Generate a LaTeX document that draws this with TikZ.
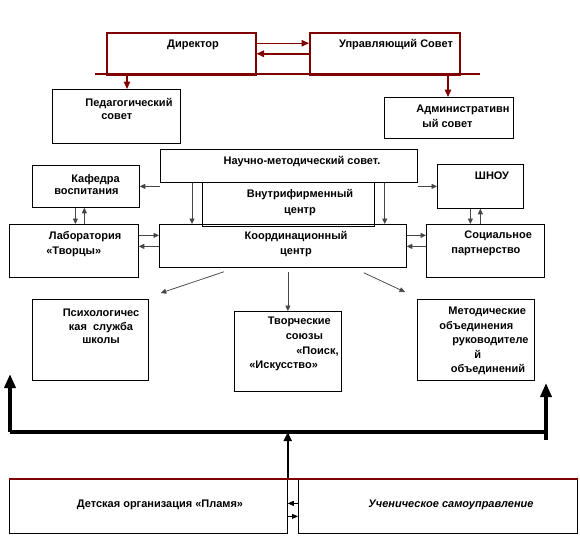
\documentclass[tikz,border=0pt]{standalone}
\usepackage{fontspec}
\setmainfont{Liberation Sans}
\usetikzlibrary{arrows.meta,calc}

\definecolor{bordo}{RGB}{128,0,0}
\definecolor{linegray}{RGB}{70,70,70}

\tikzset{every picture/.style={line width=0.75pt}}
\tikzset{
  box/.style={draw, inner sep=0pt, anchor=north west},
  redbox/.style={box, draw=bordo, line width=1.5pt},
  txt/.style={inner sep=0pt, anchor=west, align=left,
    font=\fontsize{11}{#1}\selectfont\bfseries},
  txt/.default=14.5,
  link/.style={draw=linegray, -{Triangle[length=5.5pt,width=5pt]}},
  redlink/.style={draw=bordo, color=bordo, line width=1.5pt, -{Triangle[length=7.5pt,width=6.5pt]}},
  bus/.style={line width=3.5pt},
  busarrow/.style={line width=3.5pt, -{Triangle[length=14pt,width=11pt]}},
  midarrow/.style={line width=2pt, -{Triangle[length=9pt,width=8pt]}},
  tiny/.style={-{Triangle[length=6pt,width=5pt]}}
}

\begin{document}
\begin{tikzpicture}[x=1pt,y=1pt,yscale=-1,xscale=1]
\useasboundingbox (0,0) rectangle (580,552);

%Shape: Rectangle
\node[redbox, minimum width=149pt, minimum height=42pt] (dir) at (106,32) {};
\node[redbox, minimum width=150pt, minimum height=42pt] (upr) at (309,32) {};
\node[box, minimum width=128pt, minimum height=54pt] (ped) at (52,89) {};
\node[box, minimum width=129pt, minimum height=41pt] (adm) at (384,97) {};
\node[box, minimum width=257pt, minimum height=33pt] (nms) at (160,149) {};
\node[box, minimum width=107pt, minimum height=42pt] (kaf) at (32,165) {};
\node[box, minimum width=86pt, minimum height=44pt] (shnou) at (437,164) {};
\node[box, minimum width=172pt, minimum height=44pt] (vnt) at (202,182) {};
\node[box, minimum width=129pt, minimum height=53pt] (lab) at (9,224) {};
\node[box, minimum width=247pt, minimum height=43pt] (koord) at (159,224) {};
\node[box, minimum width=118pt, minimum height=53pt] (soc) at (426,224) {};
\node[box, minimum width=116pt, minimum height=81pt] (psy) at (32,299) {};
\node[box, minimum width=107pt, minimum height=80pt] (tvo) at (234,311) {};
\node[box, minimum width=117pt, minimum height=81pt] (met) at (417,299) {};
\node[box, minimum width=278pt, minimum height=54pt] (det) at (9,479) {};
\node[box, minimum width=279pt, minimum height=54pt] (uch) at (298,479) {};

% Text Node
\node[txt, anchor=center] (dirtxt) at (193,45) {Директор};
\node[txt, anchor=center] (uprtxt) at (396,45) {Управляющий Совет};
\node[txt=12.5] (pedtxt) at (85,109) {Педагогический\\\hspace*{16pt}совет};
\node[txt=15] (admtxt) at (416,116.5) {Административн\\\hspace*{6pt}ый совет};
\node[txt, anchor=center] (nmstxt) at (302,161.5) {Научно-методический совет.};
\node[txt=11.5] (kaftxt) at (54,184.5) {\hspace*{17pt}Кафедра\\воспитания};
\node[txt, anchor=center] (shnoutxt) at (492,176) {ШНОУ};
\node[txt=16, anchor=center, align=center] (vnttxt) at (300,203) {Внутрифирменный\\центр};
\node[txt] (labtxt) at (46,244) {\hspace*{2.5pt}Лаборатория\\«Творцы»};
\node[txt, anchor=center, align=center] (koordtxt) at (296,244) {Координационный\\центр};
\node[txt=15] (soctxt) at (451,243.5) {\hspace*{13pt}Социальное\\партнерство};
\node[txt=13.7, anchor=center, align=center] (psytxt) at (101,326.5) {Психологичес\\кая\ \ служба\\школы};
\node[txt=14.7] (tvotxt) at (249,344) {\hspace*{18.5pt}Творческие\\\hspace*{36.5pt}союзы\\\hspace*{47pt}«Поиск,\\«Искусство»};
\node[txt=14.6] (mettxt) at (439,341) {\hspace*{9pt}Методические\\объединения\\\hspace*{13pt}руководителе\\\hspace*{35pt}й\\\hspace*{11.5pt}объединений};
\node[txt, anchor=center] (dettxt) at (160,505) {Детская организация «Пламя»};
\node[txt, anchor=center, font=\fontsize{11}{14.5}\selectfont\bfseries\itshape] (uchtxt) at (451,505) {Ученическое самоуправление};

%Straight Lines
\coordinate (barL) at (95,74);
\coordinate (barR) at (480,74);
\coordinate (pedtap) at (127,74);
\coordinate (admtap) at (448,74);
\draw[draw=bordo, line width=1.5pt] (barL) -- (barR);
\draw[redlink] ($(dir.east)+(0,-10.5)$) -- ($(upr.west)+(0,-10.5)$);
\draw[redlink] (upr.west) -- (dir.east);
\draw[redlink] (pedtap) -- (pedtap |- ped.north);
\draw[redlink] (admtap) -- (admtap |- adm.north);

%Straight Lines
\draw[link] (nms.south west |- kaf.east) -- (kaf.east);
\draw[link] (nms.south east |- shnou.west) -- (shnou.west);
\draw[link] ($(nms.south west)+(32,0)$) -- ($(koord.north west)+(33,0)$);
\draw[link] ($(nms.south east)+(-33,0)$) -- ($(koord.north east)+(-22,0)$);
\draw[link] ($(kaf.south)+(-10.5,0)$) -- ($(lab.north)+(1.5,0)$);
\draw[link] ($(lab.north)+(10.5,0)$) -- ($(kaf.south)+(-1.5,0)$);
\draw[link] ($(shnou.south)+(-10,0)$) -- ($(soc.north)+(-15,0)$);
\draw[link] ($(soc.north)+(-5,0)$) -- (shnou.south);
\draw[link] ($(lab.east)+(0,-15.5)$) -- ($(koord.west)+(0,-10.5)$);
\draw[link] ($(koord.west)+(0,0.5)$) -- ($(lab.east)+(0,-4.5)$);
\draw[link] ($(koord.east)+(0,-10.5)$) -- ($(soc.west)+(0,-15.5)$);
\draw[link] ($(soc.west)+(0,-4.5)$) -- ($(koord.east)+(0,0.5)$);
\draw[link] ($(koord.south west)+(65,4)$) -- ($(psy.north east)+(12,-6)$);
\draw[link] ($(tvo.north)+(0,-39)$) -- (tvo.north);
\draw[link] ($(koord.south east)+(-43,5)$) -- ($(met.north west)+(-12,-7)$);

%Straight Lines
\coordinate (busL) at (10,432);
\coordinate (busR) at (546,432);
\coordinate (upL) at (10,374);
\coordinate (upR) at (546,383);
\draw[bus] (busL) -- (busR);
\draw[busarrow] (busL) -- (upL);
\draw[busarrow] ($(busR)+(0,8)$) -- (upR);
\draw[midarrow] (det.north east) -- (det.north east |- busL);

%Straight Lines
\draw[draw=bordo, line width=1.5pt] (det.north west) -- (uch.north east);
\draw[tiny] ($(uch.west)+(0,-3)$) -- ($(det.east)+(0,-3)$);
\draw[tiny] ($(det.east)+(0,10)$) -- ($(uch.west)+(0,10)$);

\end{tikzpicture}
\end{document}
